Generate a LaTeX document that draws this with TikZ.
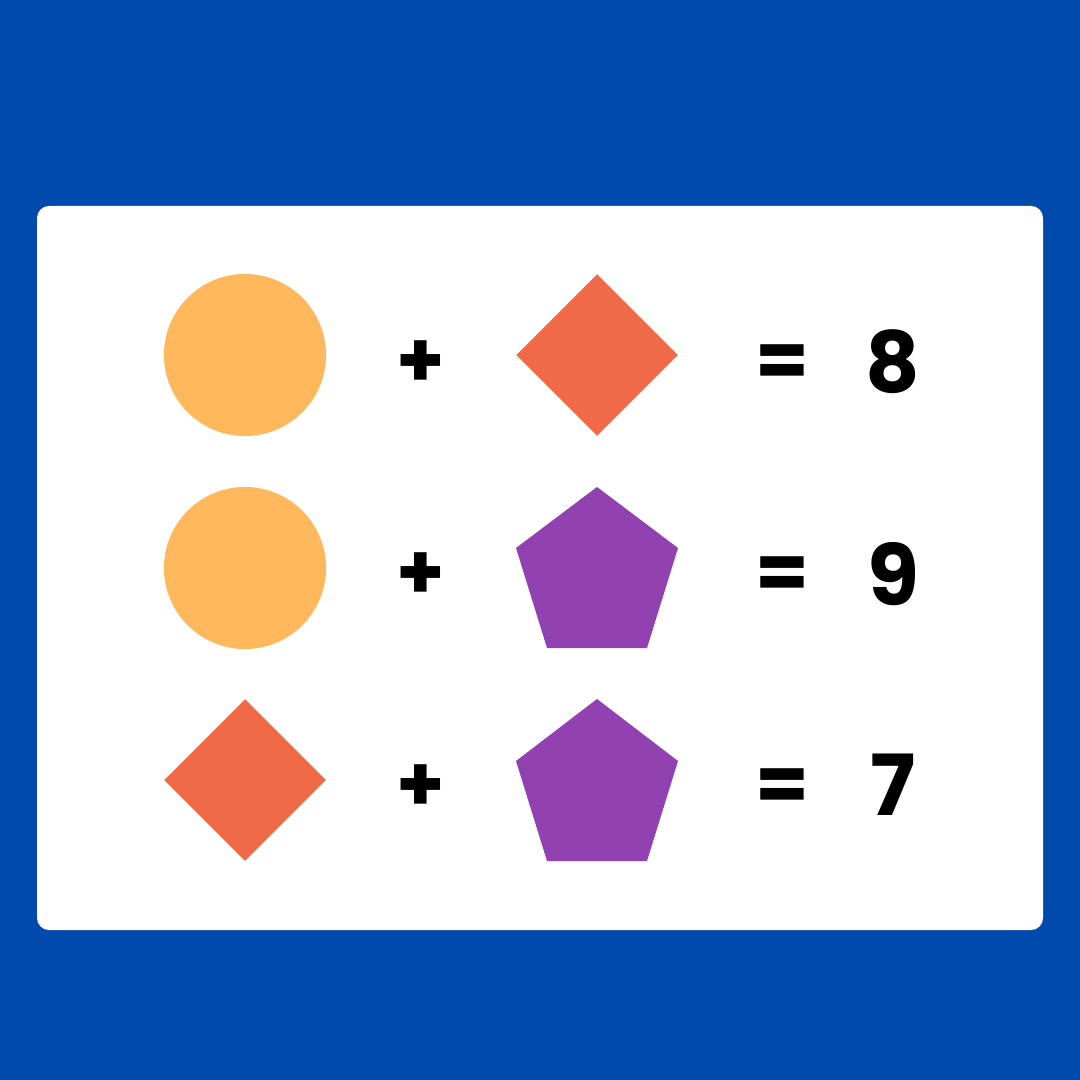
\documentclass[tikz,border=0pt]{standalone}
\usepackage{fontspec}
\setmainfont{Poppins}
\usetikzlibrary{shapes.geometric}
\definecolor{bgblue}{HTML}{004AAD}
\definecolor{corange}{HTML}{FFB85C}
\definecolor{dred}{HTML}{F06A48}
\definecolor{ppurple}{HTML}{9241B1}
\tikzset{
  sym/.style={font=\fontsize{22}{26}\selectfont\bfseries, text=black, inner sep=0pt},
  num/.style={font=\fontsize{24}{29}\selectfont\bfseries, text=black, inner sep=0pt},
  circ/.style={circle, fill=corange, minimum size=1.62cm, inner sep=0pt},
  diam/.style={diamond, fill=dred, minimum width=1.62cm, minimum height=1.62cm, inner sep=0pt},
  pent/.style={fill=ppurple},
}
\begin{document}
\begin{tikzpicture}[x=0.01cm,y=-0.01cm]
\fill[bgblue] (0,0) rectangle (1080,1080);
\useasboundingbox (0,0) rectangle (1080,1080);
\fill[white, rounded corners=0.12cm] (37,206) rectangle (1043,930);
% row 1
\node[circ] (c1) at (245,355) {};
\node[sym] (p1) at (421,364) {+};
\node[diam] (d1) at (597,355) {};
\node[sym] (e1) at (782,366) {=};
\node[num] (n1) at (893,362) {8};
% row 2
\node[circ] (c2) at (245,568) {};
\node[sym] (p2) at (421,576) {+};
\coordinate (q2) at (597,487);
\fill[pent] (q2) -- ++(81,61) -- ++(-31,100) -- ++(-100,0) -- ++(-31,-100) -- cycle;
\node[sym] (e2) at (782,578) {=};
\node[num] (n2) at (893,574) {9};
% row 3
\node[diam] (d3) at (245,780) {};
\node[sym] (p3) at (421,788) {+};
\coordinate (q3) at (597,699);
\fill[pent] (q3) -- ++(81,62) -- ++(-31,100) -- ++(-100,0) -- ++(-31,-100) -- cycle;
\node[sym] (e3) at (782,790) {=};
\node[num] (n3) at (893,785) {7};
\end{tikzpicture}
\end{document}
